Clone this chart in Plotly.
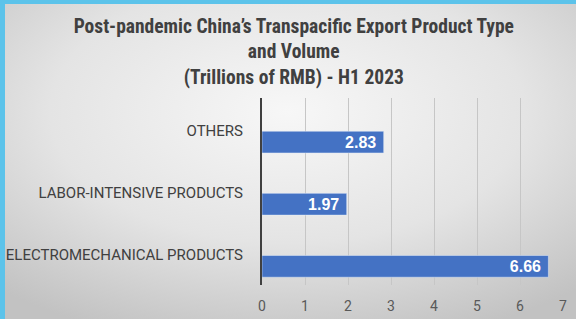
import base64
import plotly.graph_objects as go

categories = ["ELECTROMECHANICAL PRODUCTS", "LABOR-INTENSIVE PRODUCTS", "OTHERS"]
values = [6.66, 1.97, 2.83]
labels = ["6.66", "1.97", "2.83"]
x_ticks = [0, 1, 2, 3, 4, 5, 6, 7]
title_text = ("Post-pandemic China’s Transpacific Export Product Type<br>"
              "and Volume<br>(Trillions of RMB) - H1 2023")

W, H = 576, 319
ml, mr, mt, mb = 262, 13, 98, 34
pw, ph = W - ml - mr, H - mt - mb

svg = f'''<svg xmlns="http://www.w3.org/2000/svg" width="{W}" height="{H}" viewBox="0 0 {W} {H}" preserveAspectRatio="none">
<defs><radialGradient id="g" cx="50%" cy="35%" r="75%">
<stop offset="0" stop-color="#f7f7f7"/><stop offset="0.55" stop-color="#e4e4e4"/><stop offset="1" stop-color="#c2c2c2"/>
</radialGradient></defs>
<rect width="{W}" height="{H}" fill="url(#g)"/>
<rect x="0" y="0" width="{W}" height="4" fill="#5cc3ea"/>
<rect x="0" y="0" width="5" height="{H}" fill="#5cc3ea"/>
</svg>'''
src = "data:image/svg+xml;base64," + base64.b64encode(svg.encode()).decode()

fig = go.Figure(go.Bar(
    y=categories, x=values, orientation="h",
    text=labels, texttemplate="%{text}&nbsp;", textposition="inside", insidetextanchor="end",
    textfont=dict(color="white", size=16, family="Liberation Sans, Arial", weight="bold"),
    marker=dict(color="#4472c4"), width=0.35, offset=-0.355, cliponaxis=False,
))

fig.update_layout(
    width=W, height=H,
    margin=dict(l=ml, r=mr, t=mt, b=mb, autoexpand=False),
    paper_bgcolor="#e4e4e4", plot_bgcolor="rgba(0,0,0,0)",
    showlegend=False,
    uniformtext=dict(minsize=16, mode="show"),
    title=dict(text=title_text, x=0.51, xanchor="center", xref="container",
               y=1 - 33 / H, yanchor="top", yref="container",
               font=dict(family="Liberation Sans Narrow, Roboto Condensed, Arial Narrow, Roboto", size=19.5,
                         color="#404040", weight="bold")),
    images=[dict(source=src, xref="paper", yref="paper", x=-ml / pw, y=1 + mt / ph,
                 sizex=W / pw, sizey=H / ph, sizing="stretch", layer="below", xanchor="left", yanchor="top")],
    font=dict(family="Roboto, Arial", color="#404040"),
)
fig.update_xaxes(range=[0, 7], tickvals=x_ticks, showgrid=True, gridcolor="#c6c6c6", gridwidth=1,
                 zeroline=False, showline=False, tickfont=dict(size=14, color="#595959"), ticks="",
                 ticklabelstandoff=11, fixedrange=True, automargin=False)
fig.update_yaxes(range=[-0.48, 2.53], showline=True, linecolor="#404040", linewidth=2,
                 tickfont=dict(size=15, color="#404040"), ticks="", ticklabelstandoff=14,
                 fixedrange=True, automargin=False)

fig.write_html("out.html", config={"displayModeBar": False},
               post_script="document.body.style.margin='0';document.body.style.overflow='hidden';")
